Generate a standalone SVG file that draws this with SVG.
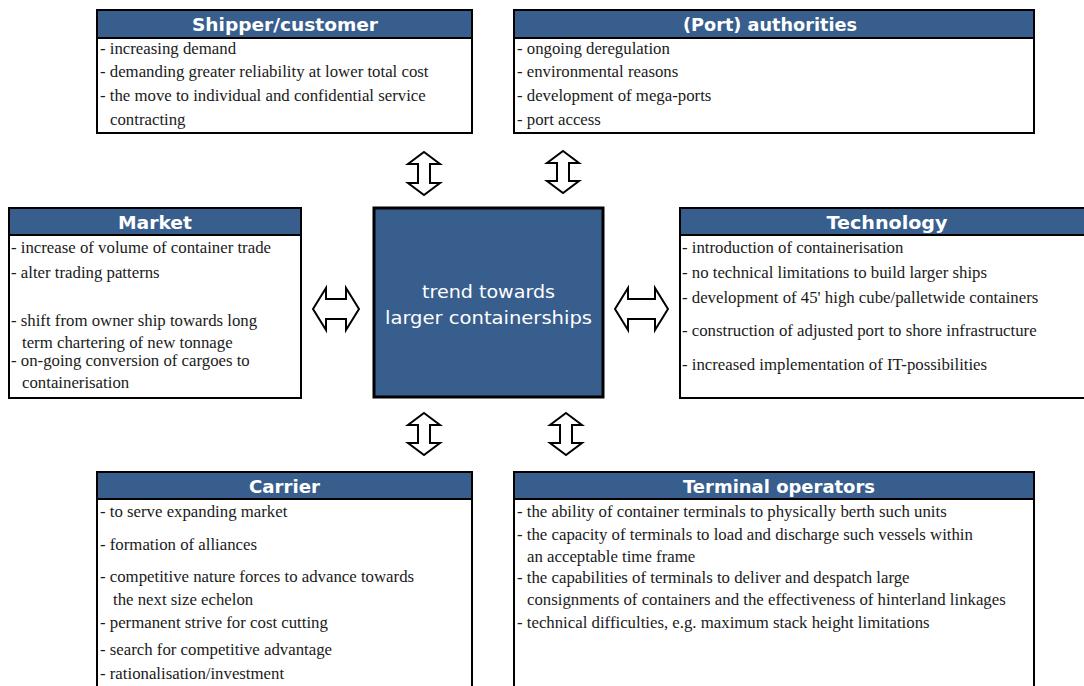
<svg xmlns="http://www.w3.org/2000/svg" width="1084" height="686" viewBox="0 0 1084 686">
<style>
.box{fill:#fff;stroke:#000;stroke-width:2}
.hdr{fill:#385E8E;stroke:#000;stroke-width:2}
.ttl{font-family:"DejaVu Sans",Verdana,sans-serif;font-weight:bold;font-size:18px;fill:#fff;text-anchor:middle}
.t{font-family:"Liberation Serif","Times New Roman",serif;font-size:16.8px;fill:#1a1a1a}
.ctr{font-family:"DejaVu Sans",Verdana,sans-serif;font-size:18px;fill:#fff;text-anchor:middle}
.arr{fill:#fff;stroke:#000;stroke-width:2;stroke-linejoin:miter}
</style>
<rect width="1084" height="686" fill="#fff"/>
<g id="shipper">
<rect class="box" x="97" y="10" width="375" height="123"/>
<rect class="hdr" x="97" y="10" width="375" height="28"/>
<text class="ttl" x="285" y="31" textLength="186" lengthAdjust="spacingAndGlyphs">Shipper/customer</text>
<text class="t" x="100" y="54">- increasing demand</text>
<text class="t" x="100" y="77">- demanding greater reliability at lower total cost</text>
<text class="t" x="100" y="101">- the move to individual and confidential service</text>
<text class="t" x="110" y="125">contracting</text>
</g>
<g id="port">
<rect class="box" x="514" y="10" width="520" height="123"/>
<rect class="hdr" x="514" y="10" width="520" height="28"/>
<text class="ttl" x="770" y="31" textLength="174" lengthAdjust="spacingAndGlyphs">(Port) authorities</text>
<text class="t" x="517" y="54">- ongoing deregulation</text>
<text class="t" x="517" y="77">- environmental reasons</text>
<text class="t" x="517" y="101">- development of mega-ports</text>
<text class="t" x="517" y="125">- port access</text>
</g>
<g id="market">
<rect class="box" x="9" y="208" width="292" height="190"/>
<rect class="hdr" x="9" y="208" width="292" height="27"/>
<text class="ttl" x="155" y="229" textLength="74" lengthAdjust="spacingAndGlyphs">Market</text>
<text class="t" x="11" y="253">- increase of volume of container trade</text>
<text class="t" x="11" y="278">- alter trading patterns</text>
<text class="t" x="11" y="326">- shift from owner ship towards long</text>
<text class="t" x="22" y="348">term chartering of new tonnage</text>
<text class="t" x="11" y="366">- on-going conversion of cargoes to</text>
<text class="t" x="22" y="388">containerisation</text>
</g>
<g id="center">
<rect x="374" y="208" width="229" height="189" fill="#385E8E" stroke="#000" stroke-width="3"/>
<text class="ctr" x="488.5" y="298" textLength="133" lengthAdjust="spacingAndGlyphs">trend towards</text>
<text class="ctr" x="488.5" y="324" textLength="207" lengthAdjust="spacingAndGlyphs">larger containerships</text>
</g>
<g id="technology">
<rect class="box" x="680" y="208" width="420" height="190"/>
<rect class="hdr" x="680" y="208" width="420" height="27"/>
<text class="ttl" x="887" y="229" textLength="121" lengthAdjust="spacingAndGlyphs">Technology</text>
<text class="t" x="682" y="253">- introduction of containerisation</text>
<text class="t" x="682" y="278">- no technical limitations to build larger ships</text>
<text class="t" x="682" y="303">- development of 45' high cube/palletwide containers</text>
<text class="t" x="682" y="336">- construction of adjusted port to shore infrastructure</text>
<text class="t" x="682" y="370">- increased implementation of IT-possibilities</text>
</g>
<g id="carrier">
<rect class="box" x="97" y="472" width="375" height="230"/>
<rect class="hdr" x="97" y="472" width="375" height="27"/>
<text class="ttl" x="284.5" y="493" textLength="71" lengthAdjust="spacingAndGlyphs">Carrier</text>
<text class="t" x="100" y="517">- to serve expanding market</text>
<text class="t" x="100" y="550">- formation of alliances</text>
<text class="t" x="100" y="582">- competitive nature forces to advance towards</text>
<text class="t" x="113" y="605">the next size echelon</text>
<text class="t" x="100" y="628">- permanent strive for cost cutting</text>
<text class="t" x="100" y="655">- search for competitive advantage</text>
<text class="t" x="100" y="679">- rationalisation/investment</text>
</g>
<g id="terminal">
<rect class="box" x="514" y="472" width="520" height="230"/>
<rect class="hdr" x="514" y="472" width="520" height="27"/>
<text class="ttl" x="779" y="493" textLength="192" lengthAdjust="spacingAndGlyphs">Terminal operators</text>
<text class="t" x="517" y="517">- the ability of container terminals to physically berth such units</text>
<text class="t" x="517" y="540">- the capacity of terminals to load and discharge such vessels within</text>
<text class="t" x="527" y="562">an acceptable time frame</text>
<text class="t" x="517" y="583">- the capabilities of terminals to deliver and despatch large</text>
<text class="t" x="527" y="605">consignments of containers and the effectiveness of hinterland linkages</text>
<text class="t" x="517" y="628">- technical difficulties, e.g. maximum stack height limitations</text>
</g>
<g id="connectors">
<path class="arr" d="M424,152 L440,164 L430,164 L430,183 L440,183 L424,195 L408,183 L418,183 L418,164 L408,164 Z"/>
<path class="arr" d="M563,151 L579,163 L569,163 L569,181 L579,181 L563,193 L547,181 L557,181 L557,163 L547,163 Z"/>
<path class="arr" d="M424,413 L440,425 L430,425 L430,443 L440,443 L424,455 L408,443 L418,443 L418,425 L408,425 Z"/>
<path class="arr" d="M566,413 L582,425 L572,425 L572,443 L582,443 L566,455 L550,443 L560,443 L560,425 L550,425 Z"/>
<path class="arr" d="M313,309 L326,288 L326,299 L346,299 L346,288 L359,309 L346,330 L346,319 L326,319 L326,330 Z"/>
<path class="arr" d="M615,309 L628,288 L628,299 L655,299 L655,288 L668,309 L655,330 L655,319 L628,319 L628,330 Z"/>
</g>
</svg>
